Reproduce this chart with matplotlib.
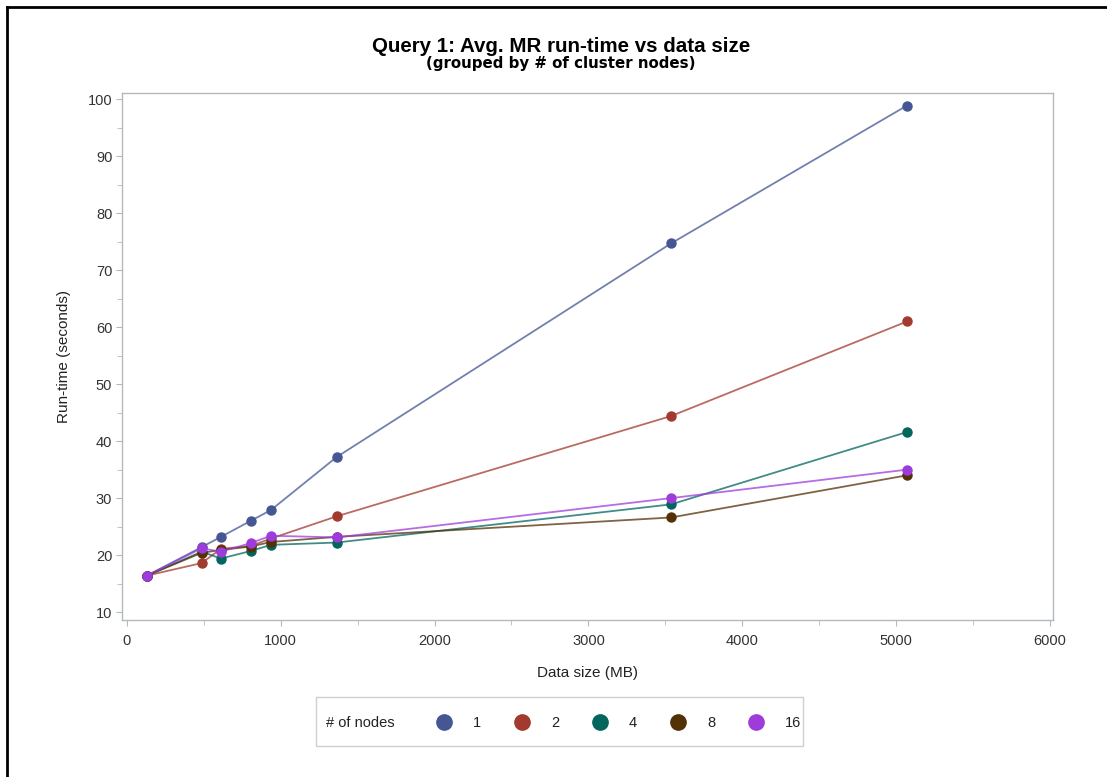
import matplotlib
matplotlib.use("Agg")
import matplotlib.pyplot as plt
from matplotlib.lines import Line2D
from matplotlib.patches import Rectangle
from matplotlib.ticker import MultipleLocator

plt.rcParams['font.family'] = ['Liberation Sans', 'DejaVu Sans']

# Data size (MB) of each test run
data_size = [130, 486, 611, 804, 936, 1363, 3537, 5071]

# Average MapReduce run-time (seconds) per cluster size
node_counts = ['1', '2', '4', '8', '16']
runtime_1 = [16.4, 21.4, 23.2, 26.0, 27.9, 37.2, 74.7, 98.9]
runtime_2 = [16.4, 18.6, 21.1, 21.6, 22.9, 26.8, 44.4, 61.0]
runtime_4 = [16.4, 20.6, 19.4, 20.7, 21.8, 22.2, 28.9, 41.6]
runtime_8 = [16.4, 20.4, 20.9, 21.5, 22.3, 23.2, 26.6, 34.0]
runtime_16 = [16.4, 21.2, 20.6, 22.1, 23.4, 23.1, 30.0, 35.0]
all_runtimes = [runtime_1, runtime_2, runtime_4, runtime_8, runtime_16]

colors = ['#445694', '#A23A2E', '#01665E', '#543005', '#9D3CDB']

fig = plt.figure(figsize=(11.07, 7.77), dpi=100)
ax = fig.add_axes([0.1102, 0.2020, 0.8410, 0.6783])

for runtimes, color in zip(all_runtimes, colors):
    ax.plot(data_size, runtimes, color=color, alpha=0.75, linewidth=1.3)
    ax.plot(data_size, runtimes, linestyle='none', marker='o',
            markersize=6.5, color=color)

ax.set_xlim(-32, 6020)
ax.set_ylim(8.6, 101.1)
ax.xaxis.set_major_locator(MultipleLocator(1000))
ax.xaxis.set_minor_locator(MultipleLocator(500))
ax.yaxis.set_major_locator(MultipleLocator(10))
ax.yaxis.set_minor_locator(MultipleLocator(5))

for spine in ax.spines.values():
    spine.set_color('#B4B9BD')
    spine.set_linewidth(1.0)
ax.tick_params(which='both', direction='out', color='#B4B9BD', labelcolor='#333333',
               labelsize=10.5)
ax.tick_params(which='major', length=4.5)
ax.tick_params(which='minor', length=3.5)
ax.tick_params(axis='x', pad=5.5)
ax.tick_params(axis='y', pad=2.5)

ax.set_xlabel('Data size (MB)', fontsize=11, color='#222222', labelpad=13)
ax.set_ylabel('Run-time (seconds)', fontsize=11, color='#222222', labelpad=12)

fig.text(0.5068, 0.940, 'Query 1: Avg. MR run-time vs data size', ha='center',
         va='center', fontsize=14.8, fontweight='bold')
fig.text(0.5068, 0.918, '(grouped by # of cluster nodes)', ha='center',
         va='center', fontsize=10.8, fontweight='bold',
         family=['DejaVu Sans'])

# Legend box with the group label on the left
fig.add_artist(Rectangle((316 / 1107, 1 - 746 / 777), 487 / 1107, 49 / 777,
                         transform=fig.transFigure, facecolor='white',
                         edgecolor='#D0D0D0', linewidth=1.0))
fig.text(326 / 1107, 1 - 723 / 777, '# of nodes', ha='left', va='center',
         fontsize=10.5, color='#222222')
handles = [Line2D([], [], linestyle='none', marker='o', markersize=11, color=c)
           for c in colors]
fig.legend(handles, node_counts, loc='center left',
           bbox_to_anchor=(426 / 1107, 1 - 723 / 777), ncol=5, frameon=False,
           fontsize=10.5, handlelength=1.4, handletextpad=1.3, columnspacing=2.1,
           borderpad=0, labelcolor='#222222')

# Outer frame lines on the left and top edges
fig.add_artist(Line2D([7 / 1107, 7 / 1107], [0, 1 - 7 / 777], color='black',
                      linewidth=2, transform=fig.transFigure))
fig.add_artist(Line2D([7 / 1107, 1], [1 - 7 / 777, 1 - 7 / 777], color='black',
                      linewidth=2, transform=fig.transFigure))

fig.savefig('out.png', dpi=100)
